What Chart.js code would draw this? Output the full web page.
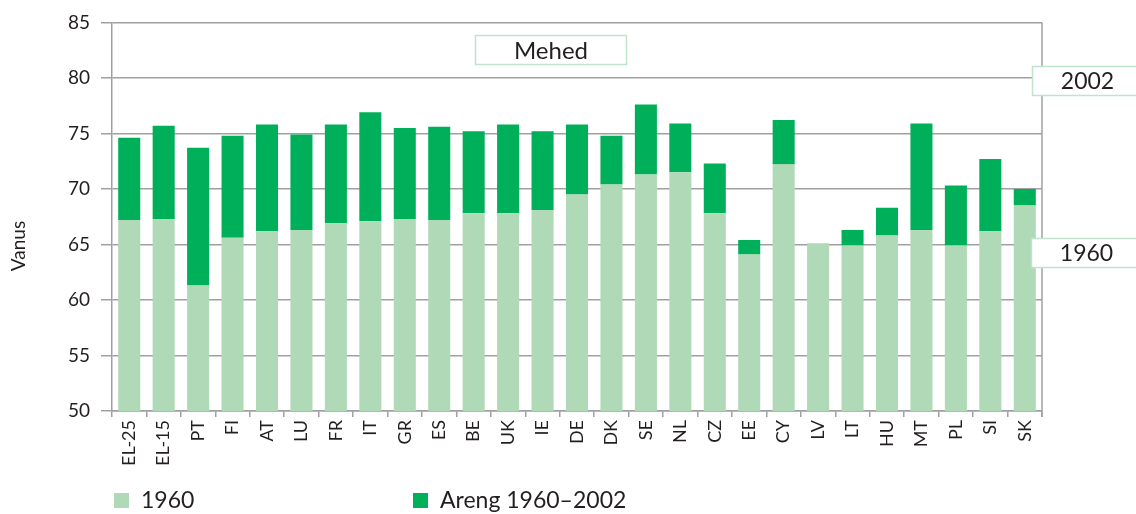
<!DOCTYPE html>
<html>
<head>
<meta charset="utf-8">
<script src="https://cdn.jsdelivr.net/npm/chart.js@4/dist/chart.umd.min.js"></script>
<style>
  html, body { margin: 0; padding: 0; background: #fff; }
  #wrap { width: 1136px; height: 514px; position: relative; }
</style>
</head>
<body>
<div id="wrap"><canvas id="lifeChart"></canvas></div>
<script>
const countries = ['EL-25', 'EL-15', 'PT', 'FI', 'AT', 'LU', 'FR', 'IT', 'GR', 'ES', 'BE', 'UK', 'IE',
  'DE', 'DK', 'SE', 'NL', 'CZ', 'EE', 'CY', 'LV', 'LT', 'HU', 'MT', 'PL', 'SI', 'SK'];
const age1960 = [67.2, 67.3, 61.3, 65.6, 66.2, 66.3, 66.9, 67.1, 67.3, 67.2, 67.8, 67.8, 68.1,
  69.5, 70.4, 71.3, 71.5, 67.8, 64.1, 72.2, 65.1, 64.9, 65.8, 66.3, 64.9, 66.2, 68.5];
const change1960to2002 = [7.4, 8.4, 12.4, 9.2, 9.6, 8.6, 8.9, 9.8, 8.2, 8.4, 7.4, 8.0, 7.1,
  6.3, 4.4, 6.3, 4.4, 4.5, 1.3, 4.0, 0, 1.4, 2.5, 9.6, 5.4, 6.5, 1.5];
const yMin = 50, yMax = 85, yStep = 5;

const lightGreen = '#b0d9b7';
const darkGreen = '#00af5a';
const gridGray = '#a0a0a0';
const textColor = '#231f20';
const boxBorder = '#bfe3cc';
const fontFamily = 'Lato, "Open Sans", sans-serif';

// boxes with labels, axis title and legend drawn on top of the chart
const extrasPlugin = {
  id: 'extras',
  afterDraw(chart) {
    const c = chart.ctx;
    const area = chart.chartArea;
    c.save();
    // right border of plot
    c.strokeStyle = gridGray;
    c.lineWidth = 1.5;
    c.beginPath();
    c.moveTo(area.right, area.top);
    c.lineTo(area.right, area.bottom + 6);
    c.stroke();

    // y axis title, sits a bit below the middle in the original
    c.save();
    c.translate(19, 246);
    c.rotate(-Math.PI / 2);
    c.fillStyle = textColor;
    c.font = '19px ' + fontFamily;
    c.textAlign = 'center';
    c.textBaseline = 'middle';
    c.fillText('Vanus', 0, 0);
    c.restore();

    function labelBox(text, x, y, w, h, size) {
      c.fillStyle = '#fff';
      c.fillRect(x, y, w, h);
      c.strokeStyle = boxBorder;
      c.lineWidth = 1.5;
      c.strokeRect(x, y, w, h);
      c.fillStyle = textColor;
      c.font = size + 'px ' + fontFamily;
      c.textAlign = 'center';
      c.textBaseline = 'middle';
      c.fillText(text, x + w / 2, y + h / 2 + 1);
    }
    labelBox('Mehed', 475.5, 35.5, 151, 29, 24);
    labelBox('2002', 1032.5, 66.5, 110, 29, 23);
    labelBox('1960', 1031.5, 238.5, 110, 29, 23);

    // legend
    const items = [
      { x: 114, color: chart.data.datasets[0].backgroundColor, text: chart.data.datasets[0].label },
      { x: 413, color: chart.data.datasets[1].backgroundColor, text: chart.data.datasets[1].label }
    ];
    c.font = '23px ' + fontFamily;
    c.textAlign = 'left';
    c.textBaseline = 'middle';
    items.forEach(it => {
      c.fillStyle = it.color;
      c.fillRect(it.x, 493, 15, 15);
      c.fillStyle = textColor;
      c.fillText(it.text, it.x + 27, 501);
    });
    c.restore();
  }
};

const ctx = document.getElementById('lifeChart').getContext('2d');
const lifeChart = new Chart(ctx, {
  type: 'bar',
  data: {
    labels: countries,
    datasets: [
      {
        label: '1960',
        data: age1960,
        backgroundColor: lightGreen,
        barPercentage: 0.64,
        categoryPercentage: 1
      },
      {
        label: 'Areng 1960–2002',
        data: change1960to2002,
        backgroundColor: darkGreen,
        barPercentage: 0.64,
        categoryPercentage: 1
      }
    ]
  },
  options: {
    responsive: true,
    maintainAspectRatio: false,
    animation: false,
    layout: {
      padding: { left: 0, top: 21, right: 94, bottom: 0 }
    },
    plugins: {
      legend: { display: false },
      tooltip: { enabled: false }
    },
    scales: {
      x: {
        stacked: true,
        afterFit(scale) { scale.height = 103; },
        grid: {
          offset: true,
          drawOnChartArea: false,
          drawTicks: true,
          tickLength: 6,
          color: gridGray,
          lineWidth: 1.5
        },
        border: { color: gridGray, width: 1.5 },
        ticks: {
          minRotation: 90,
          maxRotation: 90,
          padding: 3,
          color: textColor,
          font: { family: fontFamily, size: 18 }
        }
      },
      y: {
        stacked: true,
        min: yMin,
        max: yMax,
        afterFit(scale) { scale.width = 112; },
        grid: {
          color: gridGray,
          lineWidth: 1.5,
          tickLength: 11
        },
        border: { color: gridGray, width: 1.5 },
        ticks: {
          stepSize: yStep,
          padding: 11,
          color: textColor,
          font: { family: fontFamily, size: 19 }
        }
      }
    }
  },
  plugins: [extrasPlugin]
});
</script>
</body>
</html>
